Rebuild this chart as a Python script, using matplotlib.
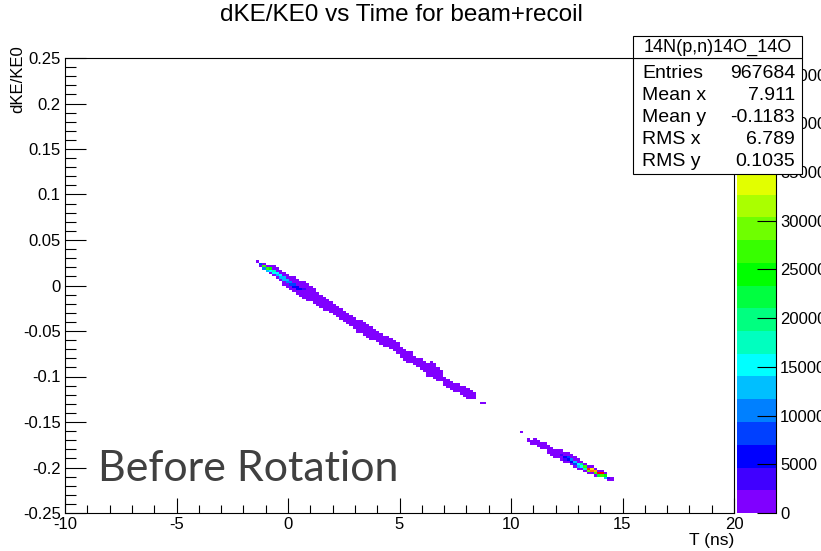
import numpy as np
import matplotlib
matplotlib.use("Agg")
import matplotlib.pyplot as plt
from matplotlib.colors import ListedColormap, BoundaryNorm
from matplotlib.ticker import MultipleLocator, FuncFormatter
from matplotlib.patches import Rectangle

# ---------------- data ----------------
# band 1 : column centre time (ns), centre dKE/KE0, number of occupied y-cells
band1_T = [-1.375, -1.225, -1.075, -0.925, -0.775, -0.625, -0.475, -0.325, -0.175, -0.025,
           0.125, 0.275, 0.425, 0.575, 0.725, 0.875, 1.025, 1.175, 1.325, 1.475,
           1.625, 1.775, 1.925, 2.075, 2.225, 2.375, 2.525, 2.675, 2.825, 2.975,
           3.125, 3.275, 3.425, 3.575, 3.725, 3.875, 4.025, 4.175, 4.325, 4.475,
           4.625, 4.775, 4.925, 5.075, 5.225, 5.375, 5.525, 5.675, 5.825, 5.975,
           6.125, 6.275, 6.425, 6.575, 6.725, 6.875, 7.025, 7.175, 7.325, 7.475,
           7.625, 7.775, 7.925, 8.075, 8.225, 8.375, 8.675, 8.825]
band1_y = [0.0264, 0.0243, 0.0221, 0.0199, 0.0175, 0.0151, 0.0127, 0.0105, 0.0083, 0.0061,
           0.0039, 0.0017, -0.0005, -0.0027, -0.0048, -0.0070, -0.0093, -0.0116, -0.0139, -0.0162,
           -0.0185, -0.0210, -0.0235, -0.0260, -0.0285, -0.0309, -0.0332, -0.0355, -0.0378, -0.0402,
           -0.0426, -0.0450, -0.0474, -0.0495, -0.0516, -0.0536, -0.0557, -0.0578, -0.0601, -0.0625,
           -0.0649, -0.0672, -0.0699, -0.0726, -0.0752, -0.0776, -0.0797, -0.0818, -0.0839, -0.0860,
           -0.0881, -0.0902, -0.0923, -0.0944, -0.0970, -0.0998, -0.1027, -0.1055, -0.1084, -0.1103,
           -0.1121, -0.1140, -0.1158, -0.1177, -0.1195, -0.1214, -0.1290, -0.1290]
band1_n = [1, 2, 3, 3, 4, 5, 5, 5, 6, 6,
           6, 7, 7, 7, 8, 8, 7, 7, 6, 6,
           6, 5, 5, 5, 5, 5, 5, 5, 5, 5,
           6, 6, 6, 6, 6, 5, 5, 5, 5, 5,
           5, 5, 5, 5, 5, 5, 5, 4, 4, 5,
           5, 6, 7, 7, 6, 5, 4, 4, 4, 4,
           4, 4, 5, 5, 4, 3, 1, 1]

# band 2
band2_T = [10.475, 10.775, 10.925, 11.075, 11.225, 11.375, 11.525, 11.675, 11.825, 11.975,
           12.125, 12.275, 12.425, 12.575, 12.725, 12.875, 13.025, 13.175, 13.325, 13.475,
           13.625, 13.775, 13.925, 14.075, 14.225, 14.375, 14.525]
band2_y = [-0.1620, -0.1688, -0.1705, -0.1722, -0.1740, -0.1757, -0.1775, -0.1793, -0.1810, -0.1828,
           -0.1845, -0.1863, -0.1880, -0.1898, -0.1915, -0.1932, -0.1950, -0.1967, -0.1985, -0.2002,
           -0.2020, -0.2037, -0.2055, -0.2072, -0.2090, -0.2107, -0.2125]
band2_n = [1, 2, 2, 3, 3, 3, 3, 4, 4, 4,
           4, 5, 5, 5, 5, 5, 5, 4, 4, 4,
           4, 4, 3, 3, 3, 2, 2]

base_count = 800

# dense cells (time, dKE/KE0, entries)
hot_T = [-1.225, -1.075, -1.075, -0.925, -0.925, -0.775, -0.775, -0.625, -0.625, -0.475,
         -0.475, -0.325, -0.325, -0.175, -0.175, -0.025, -0.025, 0.125, 0.125, 0.275,
         0.275, 0.425, 0.425, 0.575, 0.725,
         12.275, 12.425, 12.425, 12.575, 12.575, 12.725, 12.725, 12.875, 12.875, 13.025,
         13.025, 13.175, 13.175, 13.325, 13.325, 13.475, 13.475, 13.625, 13.625, 13.775,
         13.775, 13.925, 13.925, 14.075, 14.075, 14.225, 14.225, 14.375]
hot_y = [0.0243, 0.0221, 0.0196, 0.0199, 0.0174, 0.0175, 0.0150, 0.0151, 0.0126, 0.0127,
         0.0102, 0.0105, 0.0080, 0.0083, 0.0058, 0.0061, 0.0036, 0.0039, 0.0014, 0.0017,
         -0.0008, -0.0005, -0.0030, -0.0027, -0.0048,
         -0.1863, -0.1880, -0.1905, -0.1898, -0.1923, -0.1915, -0.1940, -0.1932, -0.1957, -0.1950,
         -0.1975, -0.1967, -0.1992, -0.1985, -0.2010, -0.2002, -0.2027, -0.2020, -0.2045, -0.2037,
         -0.2062, -0.2055, -0.2080, -0.2072, -0.2097, -0.2090, -0.2115, -0.2107]
hot_c = [8000, 26000, 10000, 27000, 14000, 24000, 16000, 18000, 15000, 16000,
         14000, 15000, 13000, 14000, 12000, 13000, 10000, 11000, 8000, 9000,
         6000, 7000, 5000, 5000, 3500,
         4000, 6000, 4000, 8000, 5000, 10000, 7000, 13000, 9000, 16000,
         12000, 20000, 15000, 27000, 18000, 44000, 30000, 36000, 42000, 38000,
         28000, 46000, 22000, 45000, 26000, 25000, 12000, 3000]

z_max = 46700
n_levels = 20
palette = ["#8000FF", "#4000FF", "#0000FF", "#0040FF", "#0080FF", "#00BFFF", "#00FFFF",
           "#00FFBF", "#00FF80", "#00FF40", "#00FF00", "#37FF00", "#6FFF00", "#AAFF00",
           "#E2FF00", "#FFE200", "#FFAA00", "#FF7200", "#FF3700", "#FF0000"]
cbar_ticks = [0, 5000, 10000, 15000, 20000, 25000, 30000, 35000, 40000, 45000]

stats_title = "14N(p,n)14O_14O"
stats_labels = ["Entries", "Mean x", "Mean y", "RMS x", "RMS y"]
stats_values = ["967684", "7.911", "-0.1183", "6.789", "0.1035"]

# ---------------- histogram grid ----------------
nx, ny = 200, 200
x0, x1, y0, y1 = -10.0, 20.0, -0.25, 0.25
xedges = np.linspace(x0, x1, nx + 1)
yedges = np.linspace(y0, y1, ny + 1)
dx = (x1 - x0) / nx
dy = (y1 - y0) / ny
H = np.zeros((ny, nx))

def fill_band(Ts, Ys, Ns):
    for T, y, n in zip(Ts, Ys, Ns):
        ix = int(np.floor((T - x0) / dx))
        iy = int(np.floor((y - y0) / dy))
        for k in range(iy - n // 2, iy + (n - 1) // 2 + 1):
            H[k, ix] = base_count

fill_band(band1_T, band1_y, band1_n)
fill_band(band2_T, band2_y, band2_n)
for T, y, c in zip(hot_T, hot_y, hot_c):
    ix = int(np.floor((T - x0) / dx))
    iy = int(np.floor((y - y0) / dy))
    H[iy, ix] = c

Hm = np.ma.masked_equal(H, 0)

# ---------------- figure ----------------
plt.rcParams['font.family'] = ['Liberation Sans', 'DejaVu Sans']
W, Hpx = 821, 551
fig = plt.figure(figsize=(W / 100, Hpx / 100), dpi=100)
fig.patch.set_facecolor('white')

def fx(px):
    return px / W

def fy(py):
    return 1 - py / Hpx

ax_l, ax_r, ax_t, ax_b = 65, 734, 58, 513
ax = fig.add_axes([fx(ax_l), fy(ax_b), (ax_r - ax_l) / W, (ax_b - ax_t) / Hpx])
cmap = ListedColormap(palette)
levels = np.linspace(0, z_max, n_levels + 1)
norm = BoundaryNorm(levels, cmap.N)
mesh = ax.pcolormesh(xedges, yedges, Hm, cmap=cmap, norm=norm)
ax.set_xlim(x0, x1)
ax.set_ylim(y0, y1)

for s in ax.spines.values():
    s.set_linewidth(0.8)
ax.set_xticks(np.arange(-10, 21, 5))
ax.set_yticks(np.linspace(-0.25, 0.25, 11))
ax.xaxis.set_minor_locator(MultipleLocator(1))
ax.yaxis.set_minor_locator(MultipleLocator(0.01))
ax.yaxis.set_major_formatter(FuncFormatter(lambda v, p: "0" if abs(v) < 1e-9 else ("%g" % round(v, 3))))
ax.xaxis.set_major_formatter(FuncFormatter(lambda v, p: "%d" % round(v)))
ax.tick_params(which='both', direction='in', top=False, right=False, width=0.8,
               labelsize=12, pad=3)
ax.tick_params(axis='x', which='major', length=10.5)
ax.tick_params(axis='x', which='minor', length=5.5)
ax.tick_params(axis='y', which='major', length=15)
ax.tick_params(axis='y', which='minor', length=8)

# colour bar
cax = fig.add_axes([fx(737), fy(ax_b), 39 / W, (ax_b - ax_t) / Hpx])
cb = fig.colorbar(mesh, cax=cax, ticks=cbar_ticks)
cb.outline.set_visible(False)
cax.plot([1, 1], [0, 1], transform=cax.transAxes, color='black', lw=0.8, clip_on=False)
cax.yaxis.set_ticks_position('right')
cax.tick_params(direction='in', length=14, width=0.8, labelsize=12, pad=3)
cax.yaxis.set_major_formatter(FuncFormatter(lambda v, p: "%d" % round(v)))
cax.minorticks_off()

# texts
fig.text(fx(401), fy(15), "dKE/KE0 vs Time for beam+recoil", ha='center', va='center', fontsize=17.5)
fig.text(fx(734), fy(541), "T (ns)", ha='right', va='center', fontsize=12.5)
fig.text(fx(18), fy(45), "dKE/KE0", ha='center', va='top', rotation=90, fontsize=12)
fig.text(fx(98), fy(481), "Before Rotation", ha='left', va='baseline', fontsize=31,
         color='#404040', family=['Lato', 'DejaVu Sans'])

# stats box
bx_l, bx_r, bx_t, bx_m, bx_b = 633, 802, 36, 58, 174
fig.patches.append(Rectangle((fx(bx_l), fy(bx_b)), (bx_r - bx_l) / W, (bx_b - bx_m) / Hpx,
                             transform=fig.transFigure, facecolor='white', edgecolor='black',
                             lw=0.8, zorder=10))
fig.patches.append(Rectangle((fx(bx_l), fy(bx_m)), (bx_r - bx_l) / W, (bx_m - bx_t) / Hpx,
                             transform=fig.transFigure, facecolor='white', edgecolor='black',
                             lw=0.8, zorder=10))
fig.text(fx((bx_l + bx_r) / 2), fy(47), stats_title, ha='center', va='center', fontsize=13, zorder=11)
row_y = [73, 95, 117, 140, 162]
for lab, val, ry in zip(stats_labels, stats_values, row_y):
    fig.text(fx(642), fy(ry), lab, ha='left', va='center', fontsize=14, zorder=11)
    fig.text(fx(795), fy(ry), val, ha='right', va='center', fontsize=14, zorder=11)

fig.savefig("out.png", dpi=100)
